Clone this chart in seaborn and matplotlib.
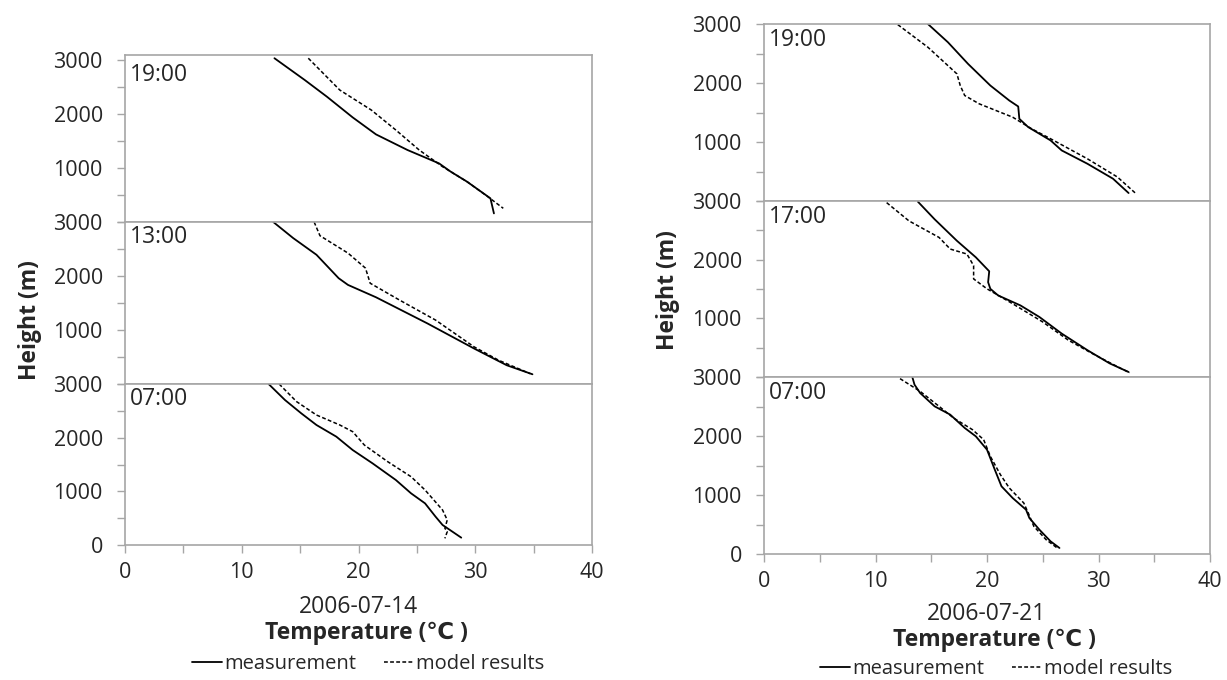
import matplotlib
matplotlib.use('Agg')
import matplotlib.pyplot as plt
import seaborn as sns
from matplotlib.lines import Line2D

sns.set_style("white")
plt.rcParams['font.family'] = ['Open Sans', 'DejaVu Sans']

# 2006-07-14, 19:00
l19_meas_t = [12.8, 15.4, 17.3, 19.5, 21.5, 24.2, 26.9, 27.9, 29.3, 31.3, 31.6]
l19_meas_h = [3040, 2635, 2325, 1942, 1626, 1336, 1088, 934, 748, 439, 160]
l19_mod_t = [15.7, 18.4, 21.1, 23.2, 25.2, 27.2, 29.3, 31.0, 32.4]
l19_mod_h = [3040, 2449, 2078, 1707, 1336, 1027, 748, 482, 254]

# 2006-07-14, 13:00
l13_meas_t = [12.7, 14.4, 16.4, 18.3, 19.1, 21.5, 25.9, 29.9, 32.7, 34.9]
l13_meas_h = [3000, 2703, 2393, 1959, 1835, 1606, 1122, 657, 347, 180]
l13_mod_t = [16.2, 16.7, 19.1, 20.6, 21.0, 23.5, 26.6, 29.9, 32.0, 34.7]
l13_mod_h = [3000, 2746, 2424, 2145, 1866, 1556, 1184, 688, 440, 192]

# 2006-07-14, 07:00
l07_meas_t = [12.3, 13.7, 15.1, 16.4, 18.1, 19.5, 21.2, 23.2, 24.5, 25.7, 26.6, 27.2, 28.8]
l07_meas_h = [3000, 2702, 2453, 2236, 2019, 1770, 1522, 1211, 963, 776, 528, 373, 137]
l07_mod_t = [13.2, 14.7, 16.4, 18.4, 19.5, 20.5, 22.5, 24.5, 25.7, 27.2, 27.6, 27.4, 27.6, 27.4]
l07_mod_h = [3000, 2671, 2422, 2236, 2112, 1863, 1553, 1273, 1025, 652, 466, 311, 248, 124]

# 2006-07-21, 19:00
r19_meas_t = [14.7, 16.5, 18.3, 20.3, 22.0, 22.8, 22.9, 23.7, 25.7, 26.7, 29.0, 31.3, 32.7]
r19_meas_h = [3000, 2690, 2324, 1957, 1703, 1602, 1393, 1252, 1027, 857, 632, 378, 135]
r19_mod_t = [12.0, 14.7, 17.3, 17.6, 18.0, 19.3, 22.3, 24.0, 25.7, 29.0, 31.7, 33.3]
r19_mod_h = [2989, 2606, 2155, 1957, 1788, 1647, 1421, 1224, 1055, 716, 406, 135]

# 2006-07-21, 17:00
r17_meas_t = [13.8, 15.3, 17.3, 19.0, 20.2, 20.1, 20.3, 21.0, 23.0, 24.7, 26.7, 29.0, 31.0, 32.7]
r17_meas_h = [2989, 2689, 2322, 2040, 1802, 1616, 1503, 1390, 1220, 1023, 740, 458, 232, 85]
r17_mod_t = [11.0, 13.0, 15.7, 16.7, 18.2, 18.8, 18.8, 20.0, 22.3, 25.0, 27.3, 29.7, 32.0, 32.8]
r17_mod_h = [2972, 2661, 2379, 2181, 2096, 1898, 1672, 1503, 1249, 938, 627, 373, 147, 73]

# 2006-07-21, 07:00
r07_meas_t = [13.3, 13.5, 14.0, 15.3, 16.7, 18.0, 19.0, 20.0, 20.7, 21.3, 22.3, 23.5, 23.8, 24.7, 25.7, 26.5]
r07_meas_h = [3000, 2870, 2729, 2503, 2362, 2136, 1994, 1768, 1429, 1147, 949, 751, 610, 412, 215, 102]
r07_mod_t = [12.2, 14.0, 15.7, 17.0, 18.7, 19.7, 20.3, 21.2, 22.0, 23.3, 23.7, 24.2, 25.3, 26.3]
r07_mod_h = [2972, 2757, 2503, 2305, 2107, 1938, 1655, 1345, 1119, 864, 695, 469, 243, 102]

panel_names = ['19:00', '13:00', '07:00', '19:00', '17:00', '07:00']
dates = ['2006-07-14', '2006-07-21']
series = [
    (l19_meas_t, l19_meas_h, l19_mod_t, l19_mod_h),
    (l13_meas_t, l13_meas_h, l13_mod_t, l13_mod_h),
    (l07_meas_t, l07_meas_h, l07_mod_t, l07_mod_h),
    (r19_meas_t, r19_meas_h, r19_mod_t, r19_mod_h),
    (r17_meas_t, r17_meas_h, r17_mod_t, r17_mod_h),
    (r07_meas_t, r07_meas_h, r07_mod_t, r07_mod_h),
]

W, H = 1227, 680
fig = plt.figure(figsize=(W / 100, H / 100), dpi=100)


def px_axes(x0, x1, ytop, ybot):
    return fig.add_axes([x0 / W, 1 - ybot / H, (x1 - x0) / W, (ybot - ytop) / H])


# pixel boxes: (x0, x1, top, bottom, ymax)
boxes = [
    (125, 592, 55, 222, 3100),
    (125, 592, 222, 384, 3000),
    (125, 592, 384, 545, 3000),
    (764, 1210, 24, 201, 3000),
    (764, 1210, 201, 377, 3000),
    (764, 1210, 377, 554, 3000),
]

grey = '#a6a6a6'
fs = 16.5
tfs = 15.5
axes = []
for i, (x0, x1, yt, yb, ymax) in enumerate(boxes):
    ax = px_axes(x0, x1, yt, yb)
    mt, mh, dt, dh = series[i]
    sns.lineplot(x=mt, y=mh, sort=False, estimator=None, color='black', lw=1.3, ax=ax)
    sns.lineplot(x=dt, y=dh, sort=False, estimator=None, color='black', lw=1.1,
                 linestyle=(0, (2.5, 1.5)), ax=ax)
    ax.set_xlim(0, 40)
    ax.set_ylim(0, ymax)
    bottom = (i % 3 == 2)
    yt_vals = list(range(0, 3001, 500))
    ylabs = [str(v) if (v % 1000 == 0 and (v > 0 or bottom)) else '' for v in yt_vals]
    ax.set_yticks(yt_vals)
    ax.set_yticklabels(ylabs, fontsize=tfs)
    if bottom:
        ax.set_xticks(range(0, 41, 5))
        ax.set_xticklabels([str(v) if v % 10 == 0 else '' for v in range(0, 41, 5)], fontsize=tfs)
    else:
        ax.set_xticks([])
    ax.tick_params(axis='y', direction='out', length=6, width=1, color=grey, left=True, pad=10)
    ax.tick_params(axis='x', direction='out', length=6, width=1, color=grey, bottom=bottom, pad=6)
    for s in ax.spines.values():
        s.set_color(grey)
        s.set_linewidth(1.2)
    ax.set_xlabel('')
    ax.set_ylabel('')
    ax.text(0.01, 0.98 if i != 0 else 0.95, panel_names[i], transform=ax.transAxes,
            ha='left', va='top', fontsize=fs)
    axes.append(ax)

# axis titles
fig.text(30 / W, 1 - 320 / H, 'Height (m)', rotation=90, ha='center', va='center',
         fontsize=fs, fontweight='bold')
fig.text(668 / W, 1 - 290 / H, 'Height (m)', rotation=90, ha='center', va='center',
         fontsize=fs, fontweight='bold')
fig.text(358 / W, 1 - 607 / H, dates[0], ha='center', va='center', fontsize=fs)
fig.text(366 / W, 1 - 633 / H, 'Temperature (℃ )', ha='center', va='center',
         fontsize=fs, fontweight='bold')
fig.text(987 / W, 1 - 614 / H, dates[1], ha='center', va='center', fontsize=fs)
fig.text(994 / W, 1 - 640 / H, 'Temperature (℃ )', ha='center', va='center',
         fontsize=fs, fontweight='bold')

handles = [Line2D([], [], color='black', lw=1.3),
           Line2D([], [], color='black', lw=1.1, linestyle=(0, (2.5, 1.5)))]
labels = ['measurement', 'model results']
for cx, cy in [(368, 664), (996, 669)]:
    fig.legend(handles, labels, loc='center', bbox_to_anchor=(cx / W, 1 - cy / H),
               ncol=2, frameon=False, fontsize=14.5, handlelength=1.5, handletextpad=0.1,
               columnspacing=1.4, borderpad=0)

fig.savefig('out.png', dpi=100)
